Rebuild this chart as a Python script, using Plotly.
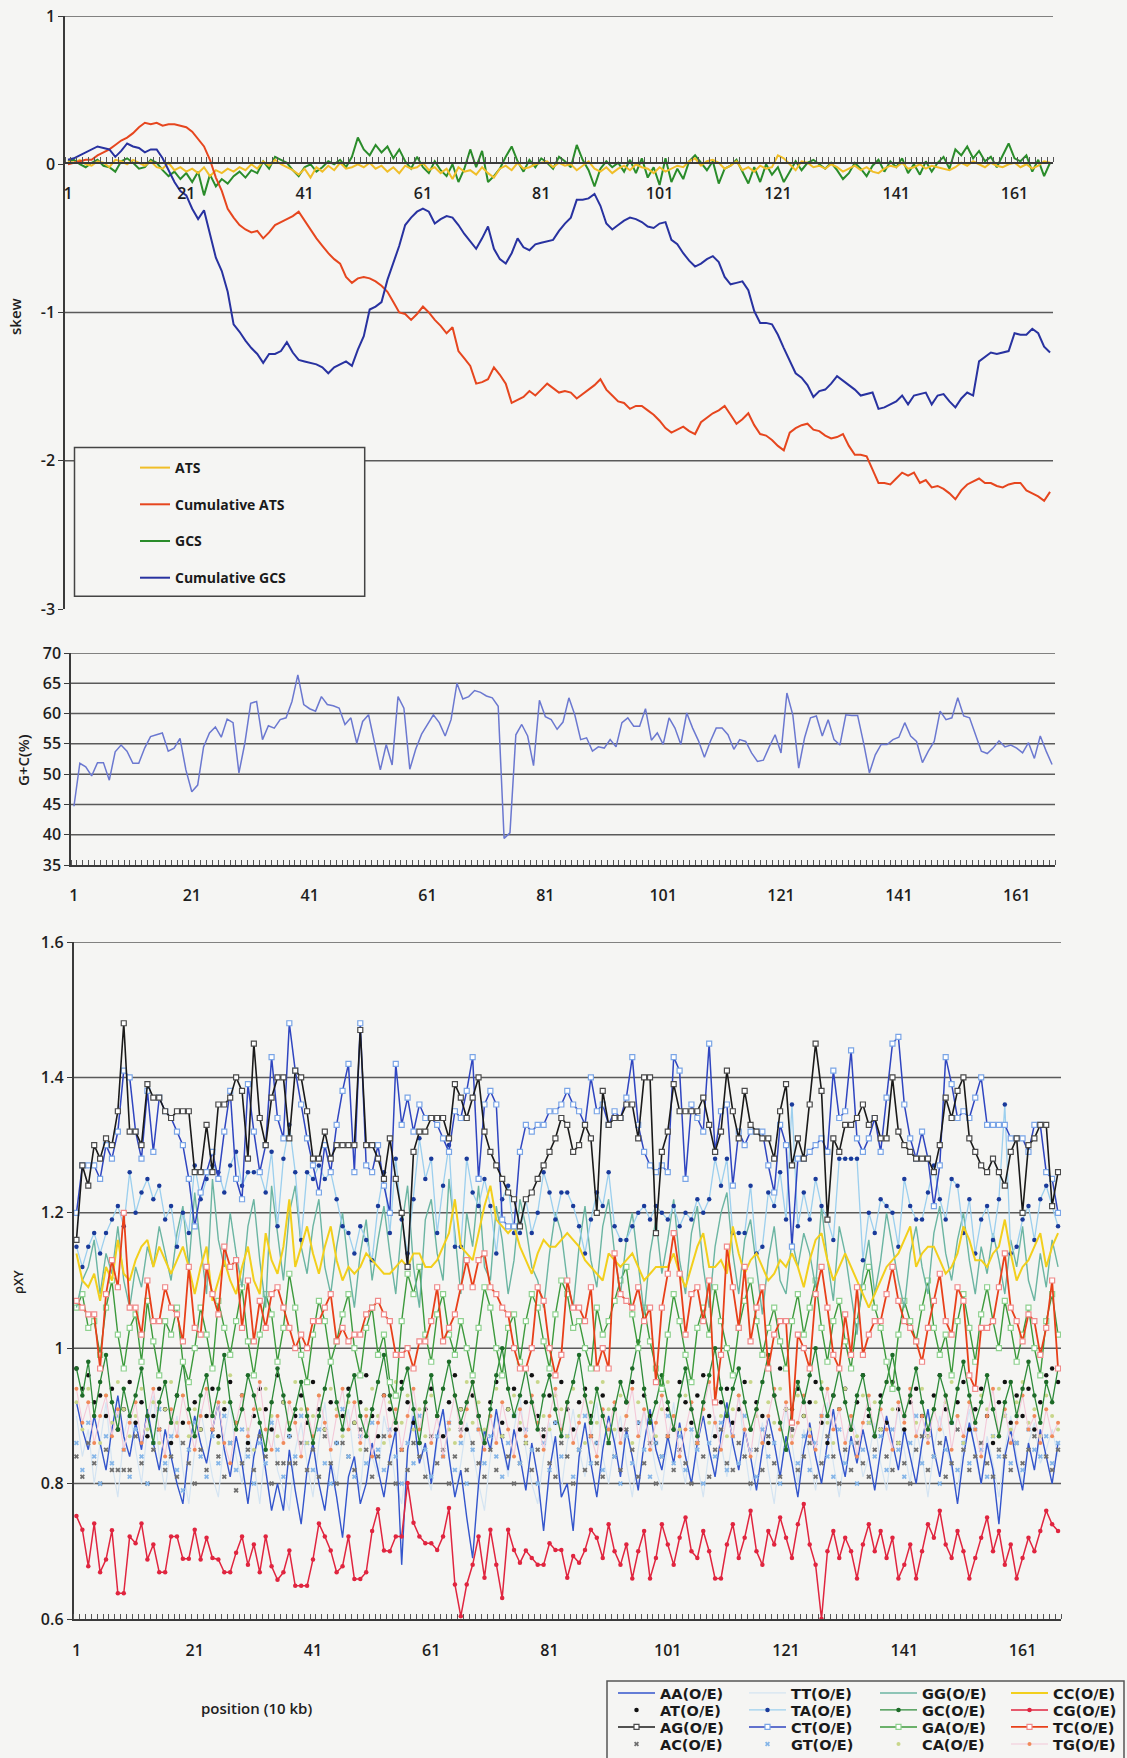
import plotly.graph_objects as go

W, H = 1127, 1758


def fx(px):
    return px / W


def fy(py):
    return 1 - py / H


position = list(range(1, 168))
tick_positions = [1, 21, 41, 61, 81, 101, 121, 141, 161]

# ---------------- skew panel ----------------
ats = [
    0.02, 0.01, 0.03, 0.00, -0.01, 0.02, 0.01, -0.02, 0.03, 0.02,
    0.00, 0.03, 0.01, -0.01, 0.02, -0.02, -0.03, 0.01, -0.04, -0.02,
    -0.05, -0.03, -0.06, -0.02, -0.08, -0.04, -0.06, -0.03, -0.05, -0.02,
    -0.04, 0.00, -0.03, 0.02, -0.01, 0.03, 0.00, -0.02, -0.04, -0.07,
    -0.03, -0.09, -0.02, -0.05, -0.01, -0.04, 0.01, -0.03, -0.02, 0.00,
    -0.02, 0.01, -0.03, -0.01, -0.05, -0.02, -0.06, -0.01, -0.03, -0.02,
    0.01, -0.04, -0.02, -0.06, -0.03, -0.10, -0.02, -0.05, -0.04, -0.07,
    -0.02, -0.06, -0.09, -0.03, -0.01, -0.04, 0.01, -0.03, -0.02, 0.00,
    0.01, 0.02, -0.02, 0.01, -0.01, 0.00, -0.04, -0.01, 0.02, -0.03,
    -0.05, -0.02, -0.06, -0.03, -0.01, -0.04, 0.00, -0.02, -0.03, -0.06,
    -0.02, -0.05, -0.03, -0.01, -0.02, 0.02, 0.04, -0.01, 0.02, 0.03,
    0.01, -0.03, -0.01, 0.02, -0.04, -0.02, -0.05, -0.01, -0.03, -0.02,
    0.06, 0.04, 0.00, -0.04, 0.02, 0.01, -0.02, -0.01, -0.03, 0.00,
    -0.02, -0.05, -0.03, -0.01, -0.04, -0.02, -0.05, -0.06, -0.03, -0.01,
    -0.02, 0.01, -0.03, -0.02, 0.00, -0.03, -0.01, -0.02, -0.03, -0.04,
    -0.02, 0.01, -0.01, 0.02, 0.00, -0.02, 0.01, -0.01, -0.02, 0.00,
    0.01, -0.02, 0.00, -0.03, -0.01, 0.02, 0.01,
]

cumulative_ats = [
    0.00, 0.01, 0.02, 0.03, 0.03, 0.06, 0.08, 0.10, 0.13, 0.16,
    0.18, 0.21, 0.25, 0.28, 0.27, 0.28, 0.26, 0.27, 0.27, 0.26,
    0.25, 0.22, 0.17, 0.12, 0.03, -0.09, -0.18, -0.30, -0.36, -0.41,
    -0.44, -0.46, -0.45, -0.50, -0.46, -0.41, -0.39, -0.37, -0.35, -0.32,
    -0.38, -0.44, -0.50, -0.55, -0.60, -0.64, -0.67, -0.76, -0.80, -0.77,
    -0.76, -0.77, -0.79, -0.82, -0.86, -0.93, -1.00, -1.01, -1.05, -1.01,
    -0.96, -1.00, -1.05, -1.09, -1.14, -1.10, -1.26, -1.31, -1.36, -1.48,
    -1.47, -1.45, -1.37, -1.42, -1.48, -1.61, -1.59, -1.57, -1.53, -1.56,
    -1.52, -1.48, -1.51, -1.54, -1.53, -1.54, -1.58, -1.55, -1.52, -1.49,
    -1.45, -1.52, -1.56, -1.60, -1.61, -1.65, -1.63, -1.63, -1.66, -1.69,
    -1.73, -1.78, -1.81, -1.79, -1.77, -1.80, -1.82, -1.74, -1.71, -1.68,
    -1.66, -1.63, -1.69, -1.75, -1.72, -1.68, -1.76, -1.82, -1.83, -1.86,
    -1.90, -1.93, -1.81, -1.78, -1.76, -1.75, -1.79, -1.80, -1.83, -1.85,
    -1.84, -1.82, -1.90, -1.96, -1.96, -1.97, -2.06, -2.15, -2.15, -2.16,
    -2.12, -2.08, -2.10, -2.08, -2.15, -2.13, -2.18, -2.17, -2.19, -2.22,
    -2.26, -2.20, -2.16, -2.14, -2.12, -2.15, -2.15, -2.17, -2.18, -2.16,
    -2.15, -2.15, -2.20, -2.22, -2.24, -2.27, -2.21,
]

gcs = [
    0.02, 0.03, 0.00, -0.02, 0.01, 0.03, -0.01, -0.02, -0.05, 0.02,
    0.04, 0.01, -0.03, -0.02, 0.03, 0.01, -0.04, -0.08, -0.05, -0.10,
    -0.06, -0.12, -0.05, -0.21, -0.07, -0.15, -0.10, -0.13, -0.08, -0.05,
    -0.09, -0.04, -0.06, 0.02, -0.03, 0.05, 0.03, 0.01, -0.04, -0.08,
    -0.02, 0.00, -0.05, -0.02, 0.02, 0.00, 0.03, -0.02, 0.05, 0.18,
    0.10, 0.06, 0.13, 0.08, 0.12, 0.04, 0.10, 0.02, -0.03, 0.05,
    -0.02, -0.06, 0.02, -0.04, -0.08, 0.00, -0.12, -0.03, 0.10, -0.02,
    0.09, -0.12, -0.08, -0.03, 0.05, 0.12, 0.02, -0.05, 0.03, -0.02,
    0.04, 0.01, -0.03, 0.05, 0.02, -0.02, 0.13, 0.03, -0.04, -0.15,
    -0.03, 0.02, -0.02, 0.01, -0.05, 0.03, -0.06, 0.04, -0.09, -0.02,
    -0.14, 0.04, -0.12, -0.03, -0.10, 0.02, 0.06, 0.01, -0.04, 0.02,
    -0.13, -0.03, -0.01, 0.03, -0.05, -0.13, -0.02, -0.12, 0.00, -0.07,
    -0.02, -0.12, -0.05, 0.02, -0.04, 0.01, 0.03, 0.00, -0.03, 0.01,
    -0.04, -0.10, -0.06, 0.01, -0.03, -0.08, -0.01, 0.03, -0.05, 0.02,
    -0.02, 0.04, -0.06, 0.00, -0.07, 0.02, -0.05, 0.01, 0.05, -0.03,
    0.10, 0.06, 0.12, 0.04, 0.09, 0.02, 0.05, -0.02, 0.06, 0.14,
    0.04, 0.02, 0.06, -0.05, 0.03, -0.08, 0.01,
]

cumulative_gcs = [
    0.03, 0.04, 0.06, 0.08, 0.10, 0.12, 0.11, 0.10, 0.05, 0.09,
    0.14, 0.12, 0.11, 0.08, 0.10, 0.10, 0.04, -0.04, -0.12, -0.18,
    -0.21, -0.30, -0.37, -0.31, -0.47, -0.63, -0.72, -0.86, -1.08, -1.13,
    -1.19, -1.24, -1.28, -1.34, -1.28, -1.28, -1.26, -1.20, -1.27, -1.32,
    -1.33, -1.34, -1.35, -1.37, -1.41, -1.37, -1.35, -1.33, -1.36, -1.25,
    -1.16, -0.98, -0.96, -0.93, -0.78, -0.66, -0.55, -0.41, -0.36, -0.32,
    -0.30, -0.32, -0.40, -0.37, -0.35, -0.36, -0.41, -0.47, -0.52, -0.57,
    -0.50, -0.42, -0.57, -0.64, -0.67, -0.60, -0.50, -0.56, -0.58, -0.54,
    -0.53, -0.52, -0.51, -0.45, -0.40, -0.36, -0.24, -0.24, -0.23, -0.20,
    -0.28, -0.40, -0.44, -0.41, -0.38, -0.36, -0.37, -0.39, -0.42, -0.43,
    -0.40, -0.39, -0.51, -0.54, -0.60, -0.65, -0.69, -0.67, -0.64, -0.62,
    -0.66, -0.76, -0.81, -0.80, -0.79, -0.85, -0.99, -1.07, -1.07, -1.08,
    -1.15, -1.24, -1.32, -1.41, -1.44, -1.49, -1.57, -1.53, -1.52, -1.48,
    -1.43, -1.46, -1.49, -1.52, -1.56, -1.55, -1.54, -1.65, -1.64, -1.62,
    -1.60, -1.56, -1.62, -1.56, -1.55, -1.54, -1.62, -1.56, -1.55, -1.60,
    -1.64, -1.58, -1.54, -1.56, -1.33, -1.30, -1.27, -1.28, -1.27, -1.26,
    -1.14, -1.15, -1.15, -1.11, -1.14, -1.23, -1.27,
]

# ---------------- G+C panel ----------------
gc_percent = [
    44.7, 51.8, 51.2, 49.7, 51.9, 51.9, 49.0, 53.7, 54.8, 53.8,
    51.8, 51.8, 54.3, 56.2, 56.5, 56.8, 53.8, 54.3, 55.9, 50.7,
    47.1, 48.2, 54.5, 56.8, 57.8, 56.1, 59.1, 58.5, 50.2, 55.1,
    61.7, 62.0, 55.7, 58.0, 57.6, 59.0, 59.3, 62.0, 66.4, 61.5,
    60.8, 60.4, 62.8, 61.5, 61.3, 60.9, 58.2, 59.3, 55.1, 58.7,
    59.8, 55.1, 50.7, 54.9, 51.5, 62.8, 60.9, 50.8, 54.1, 56.6,
    58.2, 59.8, 58.5, 56.3, 59.0, 65.0, 62.4, 62.8, 63.8, 63.5,
    62.9, 62.6, 61.2, 39.4, 40.3, 56.5, 58.2, 56.3, 51.4, 62.2,
    59.5, 59.0, 57.4, 58.6, 62.6, 59.8, 55.7, 56.0, 53.8, 54.5,
    54.3, 55.7, 54.5, 58.5, 59.3, 57.9, 57.9, 60.8, 55.6, 56.8,
    54.9, 59.3, 57.6, 54.9, 60.1, 57.6, 55.5, 52.8, 55.4, 57.6,
    57.6, 56.5, 54.1, 55.7, 55.4, 53.5, 52.1, 52.3, 54.5, 56.5,
    53.5, 63.4, 59.8, 51.0, 56.0, 59.3, 59.6, 56.3, 59.0, 55.7,
    54.8, 59.8, 59.7, 59.7, 55.2, 50.2, 53.2, 54.9, 54.9, 55.7,
    56.1, 58.5, 56.3, 55.4, 51.9, 53.8, 55.4, 60.4, 59.0, 59.3,
    62.6, 59.6, 59.3, 56.5, 53.8, 53.4, 54.3, 55.5, 54.5, 54.8,
    54.3, 53.5, 55.2, 52.6, 56.3, 53.8, 51.6,
]

# ---------------- dinucleotide O/E panel ----------------
aa = [
    0.92, 0.88, 0.85, 0.90, 0.86, 0.82, 0.88, 0.93, 0.87, 0.84,
    0.89, 0.85, 0.91, 0.86, 0.82, 0.88, 0.84, 0.80, 0.77, 0.85,
    0.90, 0.86, 0.83, 0.88, 0.92, 0.85, 0.81, 0.87, 0.83, 0.77,
    0.84, 0.88, 0.82, 0.76, 0.80, 0.76, 0.85, 0.79, 0.74, 0.82,
    0.86, 0.80, 0.76, 0.83, 0.78, 0.72, 0.81, 0.84, 0.77, 0.80,
    0.86, 0.82, 0.78, 0.84, 0.88, 0.68, 0.85, 0.90, 0.83, 0.86,
    0.80, 0.87, 0.91, 0.84, 0.78, 0.82, 0.75, 0.69, 0.80, 0.88,
    0.85, 0.91, 0.86, 0.82, 0.88, 0.84, 0.79, 0.86, 0.81, 0.73,
    0.82, 0.87, 0.78, 0.80, 0.73, 0.84, 0.89, 0.83, 0.78, 0.85,
    0.90, 0.86, 0.81, 0.88, 0.84, 0.79, 0.86, 0.91, 0.85, 0.82,
    0.87, 0.83, 0.89, 0.84, 0.80, 0.86, 0.90, 0.85, 0.81, 0.87,
    0.92, 0.86, 0.82, 0.88, 0.84, 0.79, 0.85, 0.90, 0.86, 0.81,
    0.87, 0.83, 0.78, 0.85, 0.89, 0.84, 0.80, 0.86, 0.91, 0.85,
    0.81, 0.87, 0.83, 0.88, 0.84, 0.79, 0.85, 0.90, 0.86, 0.82,
    0.88, 0.84, 0.80, 0.86, 0.91, 0.85, 0.81, 0.87, 0.83, 0.77,
    0.84, 0.89, 0.85, 0.80, 0.86, 0.82, 0.74, 0.84, 0.88, 0.83,
    0.79, 0.86, 0.82, 0.88, 0.84, 0.80, 0.86,
]

at = [
    0.97, 0.94, 0.96, 0.92, 0.93, 0.90, 0.94, 0.88, 0.91, 0.95,
    0.89, 0.92, 0.87, 0.90, 0.94, 0.91, 0.86, 0.93, 0.89, 0.95,
    0.92, 0.88, 0.90, 0.94, 0.87, 0.91, 0.95, 0.89, 0.93, 0.86,
    0.90, 0.94, 0.91, 0.88, 0.96, 0.92, 0.87, 0.90, 0.93, 0.89,
    0.95, 0.91, 0.88, 0.92, 0.86, 0.90, 0.94, 0.89, 0.92, 0.96,
    0.90, 0.87, 0.93, 0.91, 0.88, 0.95, 0.92, 0.89, 0.86, 0.91,
    0.94, 0.90, 0.87, 0.92, 0.96, 0.91, 0.88, 0.93, 0.90, 0.86,
    0.92, 0.95, 0.89, 0.91, 0.94, 0.88, 0.92, 0.96, 0.90, 0.87,
    0.93, 0.89, 0.95, 0.91, 0.88, 0.92, 0.94, 0.90, 0.86, 0.93,
    0.97, 0.91, 0.88, 0.92, 0.95, 0.89, 0.93, 0.90, 0.86, 0.94,
    0.91, 0.88, 0.95, 0.92, 0.89, 0.93, 0.96, 0.90, 0.87, 0.92,
    0.94, 0.89, 0.91, 0.95, 0.88, 0.92, 0.90, 0.86, 0.93, 0.97,
    0.91, 0.88, 0.94, 0.90, 0.92, 0.95, 0.89, 0.86, 0.93, 0.91,
    0.94, 0.88, 0.92, 0.96, 0.90, 0.87, 0.93, 0.89, 0.95, 0.91,
    0.88, 0.92, 0.94, 0.90, 0.87, 0.93, 0.96, 0.91, 0.89, 0.92,
    0.95, 0.88, 0.91, 0.94, 0.90, 0.86, 0.92, 0.95, 0.89, 0.93,
    0.90, 0.94, 0.88, 0.92, 0.96, 0.97, 0.95,
]

ag = [
    1.16, 1.27, 1.24, 1.30, 1.28, 1.31, 1.30, 1.35, 1.48, 1.32,
    1.32, 1.30, 1.39, 1.37, 1.37, 1.35, 1.34, 1.35, 1.35, 1.35,
    1.26, 1.26, 1.33, 1.26, 1.36, 1.36, 1.37, 1.40, 1.38, 1.28,
    1.45, 1.34, 1.30, 1.37, 1.40, 1.40, 1.31, 1.41, 1.40, 1.35,
    1.28, 1.28, 1.32, 1.28, 1.30, 1.30, 1.30, 1.30, 1.47, 1.30,
    1.30, 1.28, 1.25, 1.31, 1.25, 1.20, 1.12, 1.29, 1.32, 1.32,
    1.34, 1.34, 1.34, 1.31, 1.39, 1.37, 1.34, 1.37, 1.40, 1.32,
    1.29, 1.27, 1.25, 1.23, 1.22, 1.18, 1.22, 1.23, 1.25, 1.27,
    1.29, 1.31, 1.34, 1.33, 1.29, 1.30, 1.33, 1.31, 1.20, 1.38,
    1.33, 1.34, 1.34, 1.36, 1.36, 1.31, 1.40, 1.40, 1.17, 1.29,
    1.32, 1.39, 1.35, 1.35, 1.35, 1.35, 1.37, 1.33, 1.29, 1.32,
    1.41, 1.35, 1.31, 1.38, 1.33, 1.32, 1.31, 1.31, 1.28, 1.35,
    1.39, 1.27, 1.31, 1.28, 1.36, 1.45, 1.38, 1.19, 1.31, 1.29,
    1.33, 1.33, 1.34, 1.36, 1.33, 1.34, 1.31, 1.31, 1.40, 1.32,
    1.30, 1.29, 1.28, 1.28, 1.28, 1.26, 1.30, 1.37, 1.34, 1.38,
    1.40, 1.31, 1.29, 1.27, 1.26, 1.28, 1.26, 1.24, 1.29, 1.31,
    1.20, 1.30, 1.31, 1.33, 1.33, 1.21, 1.26,
]

ac = [
    0.84, 0.81, 0.86, 0.83, 0.80, 0.85, 0.82, 0.82, 0.82, 0.82,
    0.87, 0.83, 0.80, 0.85, 0.88, 0.82, 0.84, 0.81, 0.86, 0.83,
    0.80, 0.85, 0.82, 0.88, 0.84, 0.81, 0.86, 0.79, 0.83, 0.85,
    0.82, 0.87, 0.84, 0.80, 0.83, 0.83, 0.83, 0.83, 0.86, 0.82,
    0.85, 0.81, 0.87, 0.83, 0.80, 0.86, 0.84, 0.82, 0.88, 0.85,
    0.81, 0.84, 0.87, 0.83, 0.80, 0.85, 0.82, 0.86, 0.84, 0.81,
    0.87, 0.83, 0.85, 0.80, 0.84, 0.88, 0.82, 0.86, 0.83, 0.81,
    0.85, 0.82, 0.87, 0.84, 0.80, 0.83, 0.86, 0.82, 0.85, 0.88,
    0.83, 0.81, 0.86, 0.84, 0.80, 0.85, 0.82, 0.87, 0.83, 0.81,
    0.86, 0.84, 0.82, 0.88, 0.85, 0.81, 0.83, 0.86, 0.80, 0.84,
    0.87, 0.82, 0.85, 0.83, 0.80, 0.86, 0.84, 0.81, 0.85, 0.88,
    0.83, 0.82, 0.86, 0.84, 0.80, 0.85, 0.82, 0.87, 0.83, 0.81,
    0.85, 0.88, 0.82, 0.84, 0.86, 0.81, 0.83, 0.87, 0.84, 0.80,
    0.85, 0.82, 0.86, 0.83, 0.81, 0.85, 0.88, 0.84, 0.82, 0.86,
    0.83, 0.80, 0.85, 0.87, 0.82, 0.84, 0.86, 0.81, 0.83, 0.88,
    0.85, 0.82, 0.84, 0.86, 0.83, 0.81, 0.85, 0.84, 0.82, 0.86,
    0.83, 0.85, 0.87, 0.87, 0.84, 0.82, 0.85,
]

tt = [
    0.90, 0.84, 0.88, 0.80, 0.86, 0.92, 0.83, 0.78, 0.87, 0.91,
    0.85, 0.80, 0.88, 0.93, 0.84, 0.79, 0.86, 0.90, 0.82, 0.77,
    0.85, 0.91, 0.86, 0.81, 0.78, 0.87, 0.92, 0.84, 0.80, 0.88,
    0.83, 0.77, 0.86, 0.90, 0.82, 0.79, 0.76, 0.85, 0.89, 0.83,
    0.78, 0.86, 0.92, 0.84, 0.80, 0.87, 0.91, 0.83, 0.79, 0.88,
    0.84, 0.81, 0.90, 0.86, 0.80, 0.77, 0.85, 0.92, 0.87, 0.82,
    0.79, 0.86, 0.91, 0.84, 0.78, 0.83, 0.89, 0.85, 0.80, 0.76,
    0.84, 0.90, 0.86, 0.81, 0.88, 0.93, 0.85, 0.80, 0.77, 0.84,
    0.89, 0.83, 0.79, 0.86, 0.91, 0.85, 0.81, 0.87, 0.92, 0.84,
    0.80, 0.86, 0.90, 0.83, 0.78, 0.85, 0.91, 0.87, 0.82, 0.79,
    0.86, 0.92, 0.84, 0.80, 0.88, 0.83, 0.78, 0.85, 0.90, 0.86,
    0.81, 0.87, 0.93, 0.85, 0.79, 0.84, 0.89, 0.82, 0.77, 0.85,
    0.91, 0.86, 0.80, 0.88, 0.84, 0.79, 0.86, 0.92, 0.83, 0.78,
    0.85, 0.90, 0.87, 0.81, 0.84, 0.89, 0.83, 0.79, 0.86, 0.91,
    0.85, 0.80, 0.88, 0.84, 0.78, 0.85, 0.90, 0.86, 0.82, 0.79,
    0.86, 0.91, 0.84, 0.80, 0.87, 0.83, 0.78, 0.85, 0.90, 0.84,
    0.80, 0.86, 0.89, 0.83, 0.85, 0.88, 0.84,
]

ta = [
    1.15, 1.12, 1.15, 1.17, 1.14, 1.17, 1.19, 1.21, 1.18, 1.26,
    1.20, 1.23, 1.25, 1.22, 1.24, 1.19, 1.21, 1.15, 1.20, 1.17,
    1.27, 1.22, 1.25, 1.27, 1.26, 1.23, 1.27, 1.29, 1.24, 1.26,
    1.26, 1.26, 1.23, 1.29, 1.18, 1.28, 1.33, 1.26, 1.16, 1.26,
    1.25, 1.27, 1.25, 1.26, 1.22, 1.18, 1.17, 1.14, 1.18, 1.16,
    1.13, 1.21, 1.26, 1.17, 1.28, 1.19, 1.14, 1.22, 1.31, 1.25,
    1.28, 1.17, 1.24, 1.30, 1.15, 1.15, 1.28, 1.23, 1.21, 1.25,
    1.21, 1.14, 1.22, 1.24, 1.17, 1.17, 1.22, 1.17, 1.20, 1.26,
    1.23, 1.19, 1.23, 1.23, 1.21, 1.18, 1.14, 1.19, 1.23, 1.21,
    1.26, 1.18, 1.16, 1.16, 1.18, 1.20, 1.21, 1.19, 1.21, 1.20,
    1.19, 1.21, 1.18, 1.20, 1.19, 1.22, 1.20, 1.22, 1.28, 1.24,
    1.28, 1.17, 1.17, 1.17, 1.24, 1.14, 1.15, 1.23, 1.21, 1.26,
    1.19, 1.36, 1.18, 1.23, 1.19, 1.25, 1.21, 1.19, 1.16, 1.28,
    1.28, 1.28, 1.28, 1.13, 1.20, 1.17, 1.22, 1.21, 1.20, 1.15,
    1.25, 1.21, 1.19, 1.19, 1.23, 1.27, 1.22, 1.19, 1.25, 1.24,
    1.17, 1.22, 1.14, 1.19, 1.21, 1.16, 1.22, 1.36, 1.14, 1.15,
    1.19, 1.21, 1.16, 1.22, 1.24, 1.21, 1.18,
]

ct = [
    1.20, 1.27, 1.27, 1.27, 1.25, 1.30, 1.28, 1.32, 1.41, 1.40,
    1.32, 1.28, 1.38, 1.29, 1.37, 1.35, 1.34, 1.32, 1.30, 1.25,
    1.18, 1.23, 1.26, 1.29, 1.25, 1.32, 1.38, 1.25, 1.22, 1.39,
    1.32, 1.26, 1.30, 1.43, 1.34, 1.31, 1.48, 1.41, 1.36, 1.31,
    1.27, 1.23, 1.30, 1.26, 1.33, 1.38, 1.42, 1.26, 1.48, 1.27,
    1.26, 1.30, 1.24, 1.20, 1.42, 1.33, 1.37, 1.32, 1.36, 1.34,
    1.34, 1.33, 1.31, 1.29, 1.35, 1.34, 1.38, 1.43, 1.25, 1.36,
    1.38, 1.36, 1.19, 1.18, 1.18, 1.29, 1.33, 1.32, 1.33, 1.33,
    1.35, 1.35, 1.36, 1.38, 1.36, 1.35, 1.33, 1.40, 1.35, 1.36,
    1.33, 1.35, 1.34, 1.37, 1.43, 1.33, 1.29, 1.27, 1.26, 1.27,
    1.26, 1.43, 1.41, 1.25, 1.36, 1.34, 1.32, 1.45, 1.29, 1.35,
    1.36, 1.24, 1.32, 1.30, 1.32, 1.32, 1.32, 1.27, 1.23, 1.33,
    1.30, 1.15, 1.28, 1.28, 1.29, 1.30, 1.31, 1.29, 1.41, 1.34,
    1.35, 1.44, 1.31, 1.29, 1.31, 1.34, 1.29, 1.37, 1.45, 1.46,
    1.36, 1.31, 1.28, 1.32, 1.28, 1.21, 1.27, 1.43, 1.39, 1.34,
    1.35, 1.34, 1.37, 1.40, 1.33, 1.33, 1.33, 1.33, 1.31, 1.31,
    1.31, 1.29, 1.33, 1.33, 1.26, 1.25, 1.20,
]

gt = [
    0.86, 0.82, 0.89, 0.84, 0.80, 0.87, 0.83, 0.90, 0.85, 0.81,
    0.88, 0.84, 0.80, 0.86, 0.91, 0.83, 0.87, 0.82, 0.79, 0.85,
    0.89, 0.84, 0.81, 0.87, 0.83, 0.90, 0.86, 0.82, 0.88, 0.84,
    0.80, 0.86, 0.83, 0.89, 0.85, 0.81, 0.87, 0.84, 0.90, 0.86,
    0.82, 0.88, 0.83, 0.80, 0.86, 0.91, 0.84, 0.81, 0.87, 0.83,
    0.89, 0.85, 0.82, 0.88, 0.84, 0.80, 0.86, 0.83, 0.90, 0.85,
    0.81, 0.87, 0.84, 0.89, 0.82, 0.86, 0.80, 0.85, 0.88, 0.83,
    0.87, 0.84, 0.81, 0.86, 0.90, 0.83, 0.88, 0.85, 0.80, 0.86,
    0.82, 0.89, 0.84, 0.87, 0.81, 0.85, 0.90, 0.83, 0.86, 0.82,
    0.88, 0.84, 0.80, 0.87, 0.83, 0.89, 0.85, 0.81, 0.86, 0.84,
    0.90, 0.83, 0.87, 0.82, 0.88, 0.85, 0.80, 0.86, 0.84, 0.89,
    0.82, 0.87, 0.83, 0.90, 0.85, 0.81, 0.88, 0.84, 0.86, 0.80,
    0.85, 0.89, 0.83, 0.87, 0.82, 0.86, 0.90, 0.84, 0.81, 0.88,
    0.83, 0.86, 0.80, 0.85, 0.89, 0.84, 0.87, 0.82, 0.88, 0.85,
    0.81, 0.86, 0.90, 0.83, 0.87, 0.84, 0.80, 0.85, 0.89, 0.82,
    0.86, 0.83, 0.88, 0.85, 0.81, 0.87, 0.84, 0.90, 0.83, 0.86,
    0.82, 0.88, 0.85, 0.84, 0.87, 0.83, 0.86,
]

gg = [
    1.06, 1.10, 1.12, 1.16, 1.08, 1.14, 1.11, 1.18, 1.10, 1.06,
    1.12, 1.09, 1.15, 1.12, 1.18, 1.14, 1.10, 1.17, 1.21, 1.12,
    1.23, 1.15, 1.08, 1.25, 1.16, 1.12, 1.20, 1.14, 1.09, 1.18,
    1.22, 1.13, 1.06, 1.24, 1.17, 1.10, 1.20, 1.24, 1.15, 1.11,
    1.18, 1.22, 1.12, 1.08, 1.15, 1.20, 1.12, 1.06, 1.14, 1.19,
    1.10, 1.16, 1.21, 1.14, 1.08, 1.18, 1.24, 1.12, 1.06, 1.19,
    1.22, 1.14, 1.10, 1.25, 1.17, 1.08, 1.20, 1.15, 1.24, 1.12,
    1.10, 1.21, 1.16, 1.08, 1.13, 1.22, 1.18, 1.12, 1.10, 1.06,
    1.14, 1.20, 1.17, 1.10, 1.06, 1.15, 1.21, 1.13, 1.09, 1.18,
    1.22, 1.14, 1.08, 1.16, 1.20, 1.12, 1.05, 1.14, 1.19, 1.11,
    1.16, 1.22, 1.13, 1.08, 1.17, 1.21, 1.12, 1.06, 1.15, 1.20,
    1.23, 1.14, 1.08, 1.16, 1.19, 1.12, 1.05, 1.13, 1.18, 1.10,
    1.08, 1.16, 1.12, 1.17, 1.14, 1.09, 1.21, 1.13, 1.07, 1.18,
    1.14, 1.08, 1.02, 1.11, 1.16, 1.08, 1.13, 1.20, 1.15, 1.10,
    1.06, 1.14, 1.18, 1.12, 1.08, 1.17, 1.21, 1.14, 1.10, 1.16,
    1.20, 1.13, 1.08, 1.15, 1.11, 1.17, 1.13, 1.08, 1.16, 1.12,
    1.18, 1.10, 1.07, 1.14, 1.09, 1.16, 1.12,
]

gc = [
    0.97, 0.93, 0.98, 0.90, 0.95, 0.99, 0.92, 0.88, 0.94, 0.90,
    0.93, 0.97, 0.90, 0.86, 0.92, 0.95, 0.89, 0.93, 0.98, 0.91,
    0.87, 0.93, 0.96, 0.90, 0.94, 0.99, 0.92, 0.88, 0.91, 0.96,
    0.93, 0.89, 0.85, 0.92, 0.97, 0.93, 0.88, 0.91, 0.95, 0.90,
    0.86, 0.90, 0.94, 0.98, 0.92, 0.88, 0.93, 0.96, 0.90, 0.87,
    0.91, 0.95, 0.99, 0.93, 0.89, 0.94, 0.97, 0.91, 0.86, 0.92,
    0.96, 0.90, 0.94, 0.98, 0.93, 0.89, 0.92, 0.95, 0.90, 0.86,
    0.91, 0.96, 1.00, 0.94, 0.90, 0.93, 0.97, 0.92, 0.88, 0.93,
    0.96, 0.91, 0.87, 0.92, 0.95, 0.99, 0.93, 0.89, 0.94, 0.90,
    0.86, 0.91, 0.95, 0.92, 0.97, 1.01, 0.94, 0.89, 0.92, 0.96,
    0.92, 0.88, 0.93, 0.97, 0.91, 0.87, 0.92, 0.96, 1.00, 0.94,
    0.90, 0.94, 0.97, 0.92, 0.88, 0.91, 0.95, 0.99, 0.93, 0.89,
    0.85, 0.91, 0.95, 0.92, 0.96, 1.00, 0.94, 0.90, 0.93, 0.97,
    0.92, 0.88, 0.93, 0.96, 0.91, 0.87, 0.92, 0.95, 0.99, 0.94,
    0.90, 0.93, 0.97, 0.92, 0.88, 0.91, 0.96, 0.93, 0.89, 0.94,
    0.98, 0.93, 0.89, 0.92, 0.96, 0.91, 0.87, 0.92, 0.95, 0.90,
    0.94, 0.98, 0.93, 0.89, 0.95, 0.92, 0.97,
]

ga = [
    1.06, 1.08, 1.03, 1.04, 0.99, 1.06, 1.10, 1.02, 0.97, 1.03,
    1.05, 0.98, 1.07, 1.01, 0.96, 1.04, 1.02, 1.06, 0.98, 0.95,
    1.00, 1.06, 1.02, 0.97, 1.07, 1.03, 0.99, 1.04, 1.09, 1.01,
    0.96, 1.02, 1.08, 1.05, 0.98, 1.03, 1.11, 1.06, 0.99, 0.95,
    1.02, 1.07, 1.04, 0.98, 1.01, 1.05, 1.08, 1.00, 0.96, 1.03,
    1.06, 0.99, 1.02, 0.95, 0.93, 1.04, 1.11, 1.08, 1.12, 1.02,
    0.98, 1.05, 1.08, 1.02, 0.99, 1.04, 1.00, 0.96, 1.03, 1.09,
    1.06, 1.00, 0.96, 1.03, 1.05, 0.98, 1.04, 1.08, 1.06, 1.01,
    0.97, 1.05, 1.10, 1.08, 1.03, 1.04, 1.00, 0.97, 1.06, 1.02,
    1.04, 1.07, 1.10, 1.12, 1.05, 1.00, 1.06, 1.01, 0.97, 0.94,
    1.02, 1.08, 1.04, 0.99, 0.95, 1.03, 1.06, 1.02, 1.09, 1.04,
    1.00, 0.96, 1.03, 1.07, 1.10, 1.04, 0.99, 1.03, 1.06, 1.01,
    0.97, 1.04, 1.08, 1.02, 1.06, 1.10, 1.03, 0.98, 1.04, 1.07,
    1.01, 0.97, 1.04, 1.09, 1.12, 1.06, 1.03, 0.98, 0.94, 1.02,
    1.07, 1.04, 1.01, 1.06, 1.10, 1.03, 0.99, 1.02, 0.96, 1.04,
    1.08, 1.03, 0.98, 1.05, 1.09, 1.04, 1.00, 1.07, 1.03, 0.98,
    1.02, 1.06, 1.00, 0.96, 1.04, 1.08, 1.02,
]

ca = [
    0.92, 0.88, 0.94, 0.90, 0.86, 0.93, 0.89, 0.95, 0.91, 0.87,
    0.90, 0.94, 0.88, 0.92, 0.86, 0.91, 0.95, 0.89, 0.93, 0.87,
    0.91, 0.88, 0.94, 0.90, 0.86, 0.92, 0.96, 0.89, 0.93, 0.88,
    0.85, 0.91, 0.94, 0.90, 0.87, 0.92, 0.89, 0.95, 0.91, 0.86,
    0.90, 0.93, 0.88, 0.94, 0.91, 0.87, 0.92, 0.89, 0.85, 0.91,
    0.94, 0.90, 0.86, 0.92, 0.95, 0.89, 0.93, 0.88, 0.91, 0.87,
    0.93, 0.90, 0.94, 0.88, 0.86, 0.91, 0.95, 0.89, 0.92, 0.88,
    0.90, 0.94, 0.87, 0.91, 0.93, 0.89, 0.86, 0.92, 0.95, 0.90,
    0.88, 0.93, 0.91, 0.87, 0.94, 0.90, 0.86, 0.92, 0.89, 0.95,
    0.91, 0.88, 0.93, 0.90, 0.86, 0.92, 0.94, 0.89, 0.87, 0.91,
    0.95, 0.90, 0.88, 0.93, 0.91, 0.86, 0.92, 0.89, 0.94, 0.90,
    0.87, 0.91, 0.93, 0.88, 0.95, 0.90, 0.86, 0.92, 0.89, 0.94,
    0.91, 0.87, 0.93, 0.90, 0.88, 0.92, 0.95, 0.89, 0.86, 0.91,
    0.94, 0.90, 0.87, 0.93, 0.89, 0.92, 0.88, 0.95, 0.91, 0.86,
    0.90, 0.93, 0.89, 0.94, 0.87, 0.91, 0.88, 0.92, 0.95, 0.90,
    0.86, 0.92, 0.89, 0.93, 0.91, 0.87, 0.94, 0.90, 0.88, 0.92,
    0.95, 0.89, 0.91, 0.87, 0.93, 0.90, 0.88,
]

cc = [
    1.14, 1.10, 1.09, 1.11, 1.07, 1.12, 1.10, 1.16, 1.11, 1.10,
    1.13, 1.15, 1.16, 1.12, 1.15, 1.13, 1.11, 1.13, 1.15, 1.12,
    1.08, 1.12, 1.15, 1.07, 1.10, 1.13, 1.10, 1.08, 1.12, 1.15,
    1.10, 1.08, 1.17, 1.13, 1.11, 1.15, 1.22, 1.12, 1.15, 1.18,
    1.14, 1.11, 1.15, 1.18, 1.13, 1.10, 1.12, 1.11, 1.12, 1.14,
    1.13, 1.12, 1.11, 1.11, 1.12, 1.13, 1.12, 1.14, 1.14, 1.12,
    1.12, 1.13, 1.15, 1.17, 1.22, 1.15, 1.14, 1.13, 1.17, 1.21,
    1.24, 1.19, 1.18, 1.17, 1.18, 1.15, 1.13, 1.11, 1.14, 1.16,
    1.15, 1.15, 1.16, 1.17, 1.16, 1.15, 1.13, 1.12, 1.11, 1.10,
    1.14, 1.13, 1.12, 1.13, 1.14, 1.12, 1.10, 1.11, 1.12, 1.12,
    1.12, 1.14, 1.11, 1.09, 1.12, 1.15, 1.17, 1.12, 1.12, 1.13,
    1.11, 1.18, 1.14, 1.11, 1.13, 1.14, 1.12, 1.10, 1.11, 1.13,
    1.12, 1.14, 1.12, 1.09, 1.13, 1.16, 1.17, 1.13, 1.10, 1.12,
    1.14, 1.12, 1.10, 1.08, 1.06, 1.08, 1.10, 1.12, 1.13, 1.14,
    1.16, 1.18, 1.12, 1.14, 1.15, 1.15, 1.13, 1.11, 1.12, 1.14,
    1.18, 1.16, 1.13, 1.13, 1.12, 1.14, 1.15, 1.19, 1.14, 1.10,
    1.12, 1.13, 1.15, 1.17, 1.12, 1.15, 1.17,
]

cg = [
    0.752, 0.732, 0.678, 0.741, 0.669, 0.688, 0.731, 0.638, 0.638, 0.722,
    0.712, 0.741, 0.688, 0.710, 0.669, 0.669, 0.722, 0.722, 0.689, 0.689,
    0.732, 0.688, 0.720, 0.690, 0.688, 0.669, 0.669, 0.698, 0.722, 0.680,
    0.710, 0.669, 0.722, 0.678, 0.658, 0.669, 0.701, 0.649, 0.649, 0.649,
    0.688, 0.741, 0.722, 0.701, 0.669, 0.678, 0.722, 0.659, 0.659, 0.669,
    0.730, 0.762, 0.701, 0.700, 0.722, 0.722, 0.801, 0.742, 0.722, 0.712,
    0.712, 0.702, 0.722, 0.764, 0.651, 0.604, 0.651, 0.680, 0.722, 0.661,
    0.732, 0.680, 0.631, 0.732, 0.702, 0.683, 0.701, 0.690, 0.680, 0.680,
    0.712, 0.702, 0.702, 0.661, 0.693, 0.683, 0.702, 0.732, 0.720, 0.690,
    0.740, 0.700, 0.680, 0.710, 0.660, 0.700, 0.730, 0.660, 0.690, 0.740,
    0.710, 0.680, 0.720, 0.750, 0.700, 0.690, 0.730, 0.700, 0.660, 0.660,
    0.710, 0.740, 0.690, 0.720, 0.760, 0.700, 0.680, 0.730, 0.710, 0.750,
    0.720, 0.690, 0.740, 0.770, 0.710, 0.680, 0.600, 0.700, 0.730, 0.690,
    0.720, 0.700, 0.660, 0.710, 0.740, 0.700, 0.730, 0.690, 0.720, 0.660,
    0.680, 0.710, 0.660, 0.700, 0.740, 0.720, 0.760, 0.710, 0.690, 0.730,
    0.700, 0.660, 0.690, 0.720, 0.750, 0.700, 0.730, 0.680, 0.710, 0.660,
    0.690, 0.720, 0.700, 0.730, 0.760, 0.740, 0.730,
]

tc = [
    1.07, 1.06, 1.05, 1.05, 0.97, 1.08, 1.13, 1.09, 1.20, 1.06,
    1.06, 1.02, 1.10, 1.04, 1.04, 1.09, 1.06, 1.05, 1.01, 1.12,
    1.03, 1.02, 1.12, 1.08, 1.05, 1.15, 1.12, 1.13, 1.03, 1.10,
    1.01, 1.07, 1.03, 1.08, 1.09, 1.06, 1.03, 1.00, 1.02, 1.00,
    1.04, 1.04, 1.06, 1.08, 1.01, 1.03, 1.01, 1.02, 1.02, 1.05,
    1.06, 1.07, 1.05, 1.04, 0.99, 0.99, 1.00, 0.97, 1.01, 1.01,
    1.04, 1.09, 1.01, 1.03, 1.05, 1.09, 1.13, 1.09, 1.13, 1.14,
    1.09, 1.08, 1.06, 1.05, 1.00, 0.97, 0.97, 1.00, 1.09, 1.07,
    1.00, 0.96, 0.99, 1.10, 1.06, 1.06, 1.04, 1.09, 0.97, 1.00,
    0.97, 1.14, 1.08, 1.07, 1.06, 1.09, 1.04, 1.06, 0.95, 1.06,
    1.11, 1.17, 1.11, 1.02, 1.08, 1.09, 1.04, 1.10, 0.92, 0.99,
    1.15, 1.09, 1.03, 1.12, 1.01, 1.06, 1.09, 0.97, 1.02, 1.04,
    1.04, 0.89, 1.02, 1.00, 0.97, 1.08, 1.12, 1.06, 0.99, 0.97,
    1.05, 0.99, 1.09, 0.99, 1.02, 1.04, 1.04, 1.08, 1.12, 1.07,
    1.04, 1.03, 1.01, 0.98, 1.03, 1.07, 1.11, 1.04, 1.02, 1.09,
    1.07, 0.96, 0.94, 1.03, 1.03, 1.04, 1.09, 1.14, 1.06, 1.04,
    1.01, 1.05, 1.04, 0.99, 1.03, 1.10, 0.97,
]

tg = [
    0.94, 0.89, 0.92, 0.86, 0.90, 0.93, 0.87, 0.91, 0.85, 0.89,
    0.92, 0.86, 0.90, 0.94, 0.88, 0.84, 0.91, 0.87, 0.93, 0.89,
    0.85, 0.90, 0.94, 0.88, 0.92, 0.86, 0.83, 0.89, 0.93, 0.87,
    0.91, 0.95, 0.88, 0.85, 0.90, 0.86, 0.92, 0.89, 0.84, 0.91,
    0.87, 0.93, 0.89, 0.85, 0.90, 0.94, 0.88, 0.92, 0.86, 0.90,
    0.84, 0.89, 0.93, 0.87, 0.91, 0.85, 0.90, 0.94, 0.88, 0.92,
    0.86, 0.90, 0.84, 0.89, 0.93, 0.87, 0.91, 0.95, 0.88, 0.85,
    0.90, 0.86, 0.92, 0.88, 0.84, 0.91, 0.87, 0.93, 0.89, 0.85,
    0.90, 0.94, 0.88, 0.92, 0.86, 0.89, 0.93, 0.87, 0.84, 0.91,
    0.88, 0.92, 0.86, 0.90, 0.94, 0.87, 0.91, 0.85, 0.89, 0.93,
    0.87, 0.90, 0.84, 0.88, 0.92, 0.86, 0.91, 0.95, 0.89, 0.85,
    0.90, 0.87, 0.93, 0.88, 0.84, 0.91, 0.86, 0.90, 0.94, 0.88,
    0.92, 0.86, 0.89, 0.93, 0.87, 0.85, 0.90, 0.94, 0.88, 0.91,
    0.86, 0.90, 0.84, 0.89, 0.93, 0.87, 0.91, 0.88, 0.85, 0.92,
    0.89, 0.94, 0.87, 0.90, 0.86, 0.91, 0.88, 0.93, 0.85, 0.90,
    0.87, 0.92, 0.88, 0.84, 0.90, 0.94, 0.87, 0.91, 0.86, 0.89,
    0.93, 0.88, 0.90, 0.86, 0.91, 0.87, 0.89,
]

# ---------------- styling ----------------
BG = "#f5f5f3"
AXIS = "#3a3a3a"
GRID = "#5a5a5a"
FONT = "Open Sans"
tick_font = dict(family=FONT, size=16, color="#1e1e1e", weight=600)

fig = go.Figure()

# skew panel traces: (label, values, colour, legend position); GCS drawn first
skew_series = [
    ("GCS", gcs, "#2a8c2a", 3),
    ("ATS", ats, "#f0be28", 1),
    ("Cumulative ATS", cumulative_ats, "#e6461e", 2),
    ("Cumulative GCS", cumulative_gcs, "#2832a0", 4),
]
for name, vals, color, rank in skew_series:
    fig.add_trace(go.Scatter(
        x=position[:len(vals)], y=vals, mode="lines", name=name,
        line=dict(color=color, width=2), xaxis="x", yaxis="y",
        legend="legend", legendgroup=name, legendrank=rank,
    ))

# G+C panel
fig.add_trace(go.Scatter(
    x=position[:len(gc_percent)], y=gc_percent, mode="lines", name="G+C(%)",
    line=dict(color="#6b78d0", width=1.5), xaxis="x2", yaxis="y2",
    showlegend=False,
))


# dinucleotide panel styles
def line_only(color, width=1.4):
    return dict(mode="lines", line=dict(color=color, width=width))


def marker_only(color, symbol="circle", size=4.5):
    return dict(mode="markers", marker=dict(color=color, symbol=symbol, size=size))


def line_marker(lcolor, mcolor, symbol="circle", size=4.5, width=1.4, mline=None):
    m = dict(color=mcolor, symbol=symbol, size=size)
    if mline is not None:
        m["line"] = dict(color=mline, width=1.2)
    return dict(mode="lines+markers", line=dict(color=lcolor, width=width), marker=m)


# (label, values, legend row, column, style); traces are drawn in this order
dinuc = [
    ("TT(O/E)", tt, "legend2", 2, line_only("#d4e4f2", 1.2)),
    ("AA(O/E)", aa, "legend2", 1, line_only("#3355cc", 1.4)),
    ("AT(O/E)", at, "legend3", 1, marker_only("#111111", "circle", 4.5)),
    ("AC(O/E)", ac, "legend5", 1, marker_only("#707070", "x", 4.5)),
    ("GT(O/E)", gt, "legend5", 2, marker_only("#86b6e8", "x", 4.5)),
    ("CA(O/E)", ca, "legend5", 3, marker_only("#c8d68a", "circle", 4)),
    ("TG(O/E)", tg, "legend5", 4, line_marker("#f4c8d8", "#f08a5a", "circle", 4, 1.1)),
    ("GC(O/E)", gc, "legend3", 3, line_marker("#2e8b3a", "#1d6a28", "circle", 4.5, 1.3)),
    ("GA(O/E)", ga, "legend4", 3, line_marker("#3c9a3c", "#ffffff", "square", 5, 1.4, "#8fd18f")),
    ("GG(O/E)", gg, "legend2", 3, line_only("#6bb5a2", 1.4)),
    ("TA(O/E)", ta, "legend3", 2, line_marker("#9ccfee", "#1a3a9a", "circle", 4.5, 1.3)),
    ("CC(O/E)", cc, "legend2", 4, line_only("#f2cf1c", 2)),
    ("TC(O/E)", tc, "legend4", 4, line_marker("#e8401a", "#ffffff", "square", 5, 1.8, "#f08a8a")),
    ("CG(O/E)", cg, "legend3", 4, line_marker("#e0253f", "#e0253f", "circle", 4.5, 1.5)),
    ("CT(O/E)", ct, "legend4", 2, line_marker("#2f45c0", "#ffffff", "square", 5, 1.5, "#7aa5e6")),
    ("AG(O/E)", ag, "legend4", 1, line_marker("#1a1a1a", "#ffffff", "square", 5, 1.6, "#4a4a4a")),
]
for name, vals, leg, rank, style in dinuc:
    fig.add_trace(go.Scatter(
        x=position[:len(vals)], y=vals, name=name, xaxis="x3", yaxis="y3",
        legend=leg, legendrank=rank, **style,
    ))


# ---------------- axes ----------------
def x_axis(domain, ticklen, **extra):
    ax = dict(
        domain=domain, range=[0.5, 167.5], showgrid=False, zeroline=False,
        showline=True, linecolor=AXIS, linewidth=1.5,
        tickmode="array", tickvals=tick_positions,
        ticktext=[str(t) for t in tick_positions],
        ticks="outside", ticklen=ticklen, tickcolor="rgba(0,0,0,0)",
        tickfont=tick_font,
        minor=dict(tickmode="linear", tick0=0.5, dtick=1, ticks="inside",
                   ticklen=5, tickcolor="#555555", tickwidth=1, showgrid=False),
    )
    ax.update(extra)
    return ax


def y_axis(domain, rng, vals, texts, anchor):
    return dict(
        domain=domain, range=rng, anchor=anchor, showgrid=False, zeroline=False,
        showline=True, linecolor=AXIS, linewidth=1.5,
        tickmode="array", tickvals=vals, ticktext=texts,
        ticks="outside", ticklen=5, tickcolor=AXIS, tickfont=tick_font,
    )


fig.update_layout(
    xaxis=x_axis([fx(65), fx(1053)], 16, anchor="free", position=fy(163)),
    yaxis=y_axis([fy(609), fy(16)], [-3, 1], [-3, -2, -1, 0, 1],
                 ["-3", "-2", "-1", "0", "1"], "x"),
    xaxis2=x_axis([fx(71), fx(1055)], 15, anchor="y2"),
    yaxis2=y_axis([fy(865), fy(653)], [35, 70], [35, 40, 45, 50, 55, 60, 65, 70],
                  ["35", "40", "45", "50", "55", "60", "65", "70"], "x2"),
    xaxis3=x_axis([fx(73.5), fx(1061)], 16, anchor="y3"),
    yaxis3=y_axis([fy(1619), fy(942)], [0.6, 1.6], [0.6, 0.8, 1.0, 1.2, 1.4, 1.6],
                  ["0.6", "0.8", "1", "1.2", "1.4", "1.6"], "x3"),
)

# gridlines
shapes = []
for yv in [1, -1, -2]:
    shapes.append(dict(type="line", xref="x domain", yref="y", x0=0, x1=1, y0=yv, y1=yv,
                       line=dict(color=GRID, width=1.5), layer="below"))
for yv in [40, 45, 50, 55, 60, 65, 70]:
    shapes.append(dict(type="line", xref="x2 domain", yref="y2", x0=0, x1=1, y0=yv, y1=yv,
                       line=dict(color=GRID, width=1.5), layer="below"))
for yv in [0.8, 1.0, 1.2, 1.4, 1.6]:
    shapes.append(dict(type="line", xref="x3 domain", yref="y3", x0=0, x1=1, y0=yv, y1=yv,
                       line=dict(color=GRID, width=1.5), layer="below"))
# legend frames
shapes.append(dict(type="rect", xref="paper", yref="paper",
                   x0=fx(74.5), x1=fx(364.7), y0=fy(596.3), y1=fy(447.6),
                   fillcolor=BG, line=dict(color="#444444", width=1.5), layer="above"))
shapes.append(dict(type="rect", xref="paper", yref="paper",
                   x0=fx(607), x1=fx(1124), y0=fy(1775), y1=fy(1681),
                   fillcolor=BG, line=dict(color="#555555", width=1.5), layer="above"))

# axis titles
title_font = dict(family=FONT, size=15, color="#1e1e1e", weight=600)
annotations = [
    dict(text="skew", x=fx(15), y=fy(316), textangle=-90),
    dict(text="G+C(%)", x=fx(23), y=fy(760), textangle=-90),
    dict(text="ρXY", x=fx(18), y=fy(1282), textangle=-90,
         font=dict(family=FONT, size=13, color="#1e1e1e", weight=600)),
    dict(text="position (10 kb)", x=fx(256), y=fy(1708), textangle=0),
]
for a in annotations:
    a.update(xref="paper", yref="paper", showarrow=False, xanchor="center", yanchor="middle")
    a.setdefault("font", title_font)

legend_common = dict(bgcolor="rgba(0,0,0,0)", borderwidth=0, xanchor="left")
bottom_font = dict(family="DejaVu Sans", size=14.5, color="#1a1a1a", weight=700)
row_legend = dict(orientation="h", font=bottom_font, itemwidth=37,
                  entrywidth=79, entrywidthmode="pixels", yanchor="middle",
                  traceorder="normal", **legend_common)
fig.update_layout(
    width=W, height=H,
    margin=dict(l=0, r=0, t=0, b=0, autoexpand=False),
    paper_bgcolor=BG, plot_bgcolor=BG,
    shapes=shapes, annotations=annotations,
    legend=dict(x=fx(135), y=fy(452), yanchor="top",
                font=dict(family=FONT, size=14, color="#1a1a1a", weight=700),
                itemwidth=30, tracegroupgap=15.5, traceorder="grouped", **legend_common),
    legend2=dict(x=fx(613), y=fy(1693), **row_legend),
    legend3=dict(x=fx(613), y=fy(1710), **row_legend),
    legend4=dict(x=fx(613), y=fy(1727), **row_legend),
    legend5=dict(x=fx(613), y=fy(1744), **row_legend),
    showlegend=True,
)

fig.write_html("out.html")
